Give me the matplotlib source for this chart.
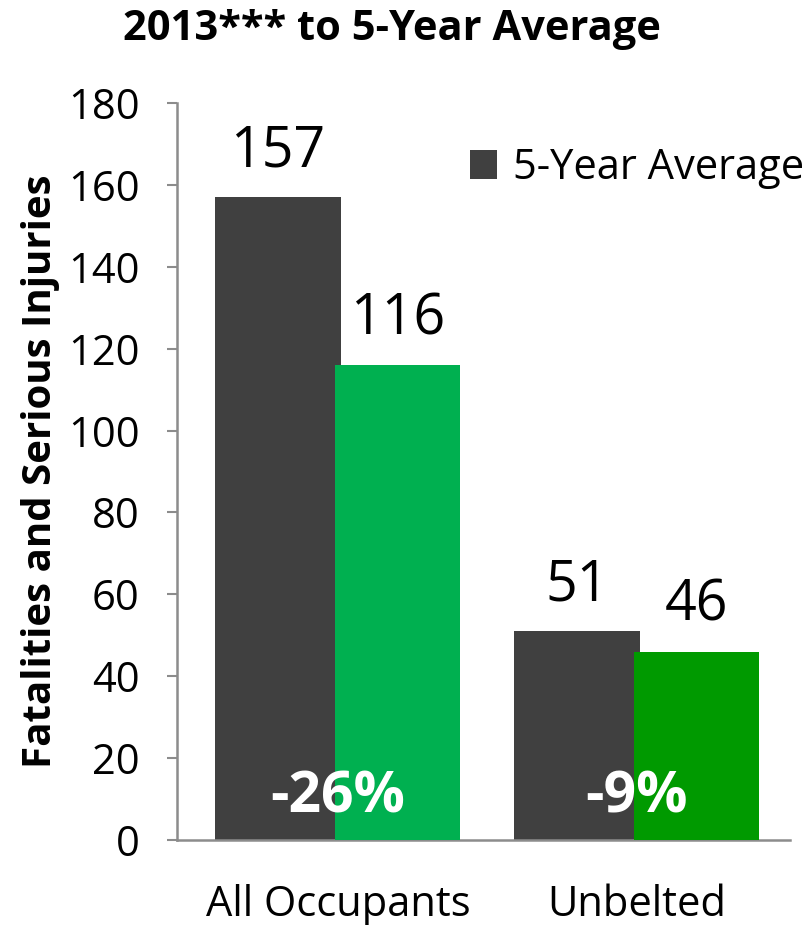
import matplotlib.pyplot as plt
import numpy as np

plt.rcParams['font.family'] = ['Open Sans', 'DejaVu Sans']

# Data
categories = ['All Occupants', 'Unbelted']
five_year_avg = [157, 51]
year_2013 = [116, 46]
change_labels = ['-26%', '-9%']

dark = '#404040'
greens = ['#00B050', '#009A00']
axis_gray = '#8C8C8C'

fig = plt.figure(figsize=(8.09, 9.25), dpi=100)
ax = fig.add_axes([0.2188, 0.0919, 0.7577, 0.7967])

x = np.arange(len(categories))
w = 0.42
b1 = ax.bar(x - 0.2, five_year_avg, width=w, color=dark, label='5-Year Average', zorder=2)
b2 = ax.bar(x + 0.2, year_2013, width=w, color=greens, zorder=3)

# value labels above bars
for rect, v in zip(list(b1) + list(b2), five_year_avg + year_2013):
    ax.annotate(str(v), (rect.get_x() + rect.get_width() / 2, v),
                xytext=(0, 12), textcoords='offset points',
                ha='center', va='bottom', fontsize=40, color='black', zorder=5)

# percent change labels inside bars
for xi, lab in zip(x, change_labels):
    ax.text(xi, 10.5, lab, ha='center', va='center', fontsize=41,
            fontweight='bold', color='white', zorder=6)

ax.set_ylim(0, 180)
ax.set_yticks(range(0, 181, 20))
ax.set_xlim(-0.538, 1.512)
ax.set_xticks(x)
ax.set_xticklabels(categories)

ax.tick_params(axis='y', labelsize=30, length=7, width=1.5, color=axis_gray, pad=20)
ax.tick_params(axis='x', labelsize=30, length=0, pad=32)

for s in ['top', 'right']:
    ax.spines[s].set_visible(False)
for s in ['left', 'bottom']:
    ax.spines[s].set_color(axis_gray)
    ax.spines[s].set_linewidth(1.8)

ax.set_ylabel('Fatalities and Serious Injuries', fontsize=29, fontweight='bold', labelpad=6)

leg = ax.legend(handles=[b1], loc='upper left', bbox_to_anchor=(0.45, 0.963),
                frameon=False, fontsize=30, handlelength=0.65, handleheight=0.7,
                handletextpad=0.4, borderaxespad=0)

fig.text(392 / 809, 1 - 30 / 925, '2013*** to 5-Year Average', ha='center', va='center',
         fontsize=30, fontweight='bold')

fig.savefig('out.png', dpi=100)
